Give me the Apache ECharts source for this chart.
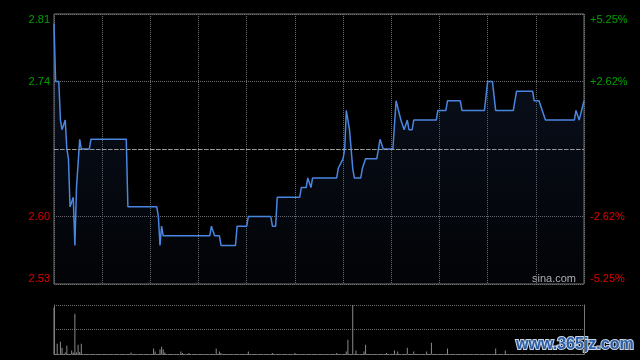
<!DOCTYPE html>
<html>
<head>
<meta charset="utf-8">
<script src="https://cdn.jsdelivr.net/npm/echarts@6/dist/echarts.min.js"></script>
<style>
html,body{margin:0;padding:0;background:#000;}
#c{width:640px;height:360px;}
</style>
</head>
<body>
<div id="c"></div>
<script>
// ---- data ----
const prevClose = 2.67;
const priceMinutes = [0,1,3,4,5,6,7,8,9,10,11,12,13,14,15,16,17,22,23,45,46,64,65,66,67,68,97,98,99,100,103,104,113,114,120,121,135,136,138,139,153,154,157,158,159,160,161,176,177,178,180,181,182,183,184,185,186,187,191,192,193,194,201,203,204,205,211,213,214,216,217,218,219,220,221,223,224,238,239,244,245,253,254,268,270,273,275,286,288,298,299,302,304,305,306,324,325,326,327,328,330];
const prices = [2.80,2.74,2.74,2.70,2.69,2.69,2.70,2.67,2.66,2.61,2.61,2.62,2.57,2.63,2.63,2.68,2.67,2.67,2.68,2.68,2.61,2.61,2.60,2.57,2.59,2.58,2.58,2.59,2.59,2.58,2.58,2.57,2.57,2.59,2.59,2.60,2.60,2.59,2.59,2.62,2.62,2.63,2.63,2.64,2.64,2.63,2.64,2.64,2.65,2.65,2.66,2.67,2.71,2.71,2.69,2.67,2.65,2.64,2.64,2.65,2.65,2.66,2.66,2.68,2.68,2.67,2.67,2.72,2.72,2.70,2.70,2.69,2.69,2.70,2.69,2.69,2.70,2.70,2.71,2.71,2.72,2.72,2.71,2.71,2.74,2.74,2.71,2.71,2.73,2.73,2.72,2.72,2.71,2.71,2.70,2.70,2.71,2.71,2.70,2.70,2.72];
const volMinutes = [0,2,4,5,7,8,11,12,13,14,15,16,17,48,62,63,66,67,68,69,79,80,84,101,103,104,121,136,150,176,182,183,186,188,193,194,207,212,214,220,224,232,235,245,275,281];
const volumes = [950,210,250,130,30,170,70,30,820,30,190,40,210,30,110,50,90,150,90,30,50,20,20,110,50,20,50,20,20,20,50,290,1000,70,50,190,20,70,50,130,50,50,230,110,110,70];
const priceLabels = ['2.53','2.60','','2.74','2.81'];
const pctLabels = ['-5.25%','-2.62%','','+2.62%','+5.25%'];
const labelStyles = ['r','r','n','g','g'];

// ---- chart ----
const chart = echarts.init(document.getElementById('c'), null, {renderer:'canvas'});
const lineData = priceMinutes.map((m,i)=>[m, Math.round((prices[i]-prevClose)*10000)/100]);
const volData = volMinutes.map((m,i)=>[m, volumes[i]]);
const tickIdx = v => Math.round((Number(v) + 14) / 7);
const FONT = '"Liberation Sans", Arial, sans-serif';
const dotted = {color:'#6e6e6e', width:1, type:[1,1]};
const rich = {
  r:{color:'#e00000', fontSize:11, fontFamily:FONT},
  g:{color:'#00a000', fontSize:11, fontFamily:FONT},
  n:{color:'#888', fontSize:11, fontFamily:FONT}
};
const fmt = labels => (v) => {
  const i = tickIdx(v);
  const t = labels[i];
  return t ? '{' + labelStyles[i] + '|' + t + '}' : '';
};

chart.setOption({
  backgroundColor:'#000',
  animation:false,
  grid:[
    {left:54, top:14, width:530, height:270, show:true, borderColor:'#777', borderWidth:1, backgroundColor:'transparent', containLabel:false},
    {left:54, top:305, width:530, height:49, show:false, containLabel:false}
  ],
  xAxis:[
    {type:'value', gridIndex:0, min:0, max:330, interval:30,
     axisLine:{show:false}, axisTick:{show:false}, axisLabel:{show:false},
     splitLine:{show:true, lineStyle:dotted}},
    {type:'value', gridIndex:1, min:0, max:330, interval:30,
     axisLine:{show:true, lineStyle:{color:'#777', width:1, type:[2,1]}}, axisTick:{show:false}, axisLabel:{show:false},
     splitLine:{show:false}}
  ],
  yAxis:[
    {type:'value', gridIndex:0, position:'left', min:-14, max:14, interval:7,
     axisLine:{show:false}, axisTick:{show:false},
     axisLabel:{show:true, margin:4, fontSize:11, fontFamily:FONT, color:'#888',
       formatter:fmt(priceLabels), rich:rich,
       verticalAlignMinLabel:'bottom', verticalAlignMaxLabel:'top'},
     splitLine:{show:true, lineStyle:dotted}},
    {type:'value', gridIndex:0, position:'right', min:-14, max:14, interval:7,
     axisLine:{show:false}, axisTick:{show:false},
     axisLabel:{show:true, margin:6, fontSize:11, fontFamily:FONT, color:'#888',
       formatter:fmt(pctLabels), rich:rich,
       verticalAlignMinLabel:'bottom', verticalAlignMaxLabel:'top'},
     splitLine:{show:false}},
    {type:'value', gridIndex:1, position:'left', min:0, max:1000, interval:500,
     axisLine:{show:true, lineStyle:{color:'#777', width:1}}, axisTick:{show:false}, axisLabel:{show:false},
     splitLine:{show:true, lineStyle:dotted}},
    {type:'value', gridIndex:1, position:'right', min:0, max:1000, interval:500,
     axisLine:{show:true, lineStyle:{color:'#777', width:1}}, axisTick:{show:false}, axisLabel:{show:false},
     splitLine:{show:false}}
  ],
  series:[
    {type:'line', xAxisIndex:0, yAxisIndex:0, data:lineData, showSymbol:false, symbol:'none',
     lineStyle:{color:'#4a86e0', width:1.5},
     areaStyle:{origin:'start', color:new echarts.graphic.LinearGradient(0,0,0,1,[
       {offset:0, color:'rgba(35,60,110,0.42)'},
       {offset:1, color:'rgba(35,60,110,0.08)'}])},
     markLine:{silent:true, symbol:'none', label:{show:false},
       lineStyle:{color:'#999', width:1, type:[4,2]},
       data:[{yAxis:0}]},
     z:3},
    {type:'bar', xAxisIndex:1, yAxisIndex:2, data:volData, barWidth:1,
     itemStyle:{color:'#8a8a8a'}, z:2}
  ],
  graphic:[
    {type:'text', left:532, top:273, style:{text:'sina.com', fill:'#b5b5b5', font:'11px '+FONT}},
    {type:'text', left:515, top:336, style:{text:'www.365jz.com', fill:'#2d5fa6', stroke:'#c9d5e6', lineWidth:2, font:'bold 16px '+FONT}}
  ]
});
</script>
</body>
</html>
